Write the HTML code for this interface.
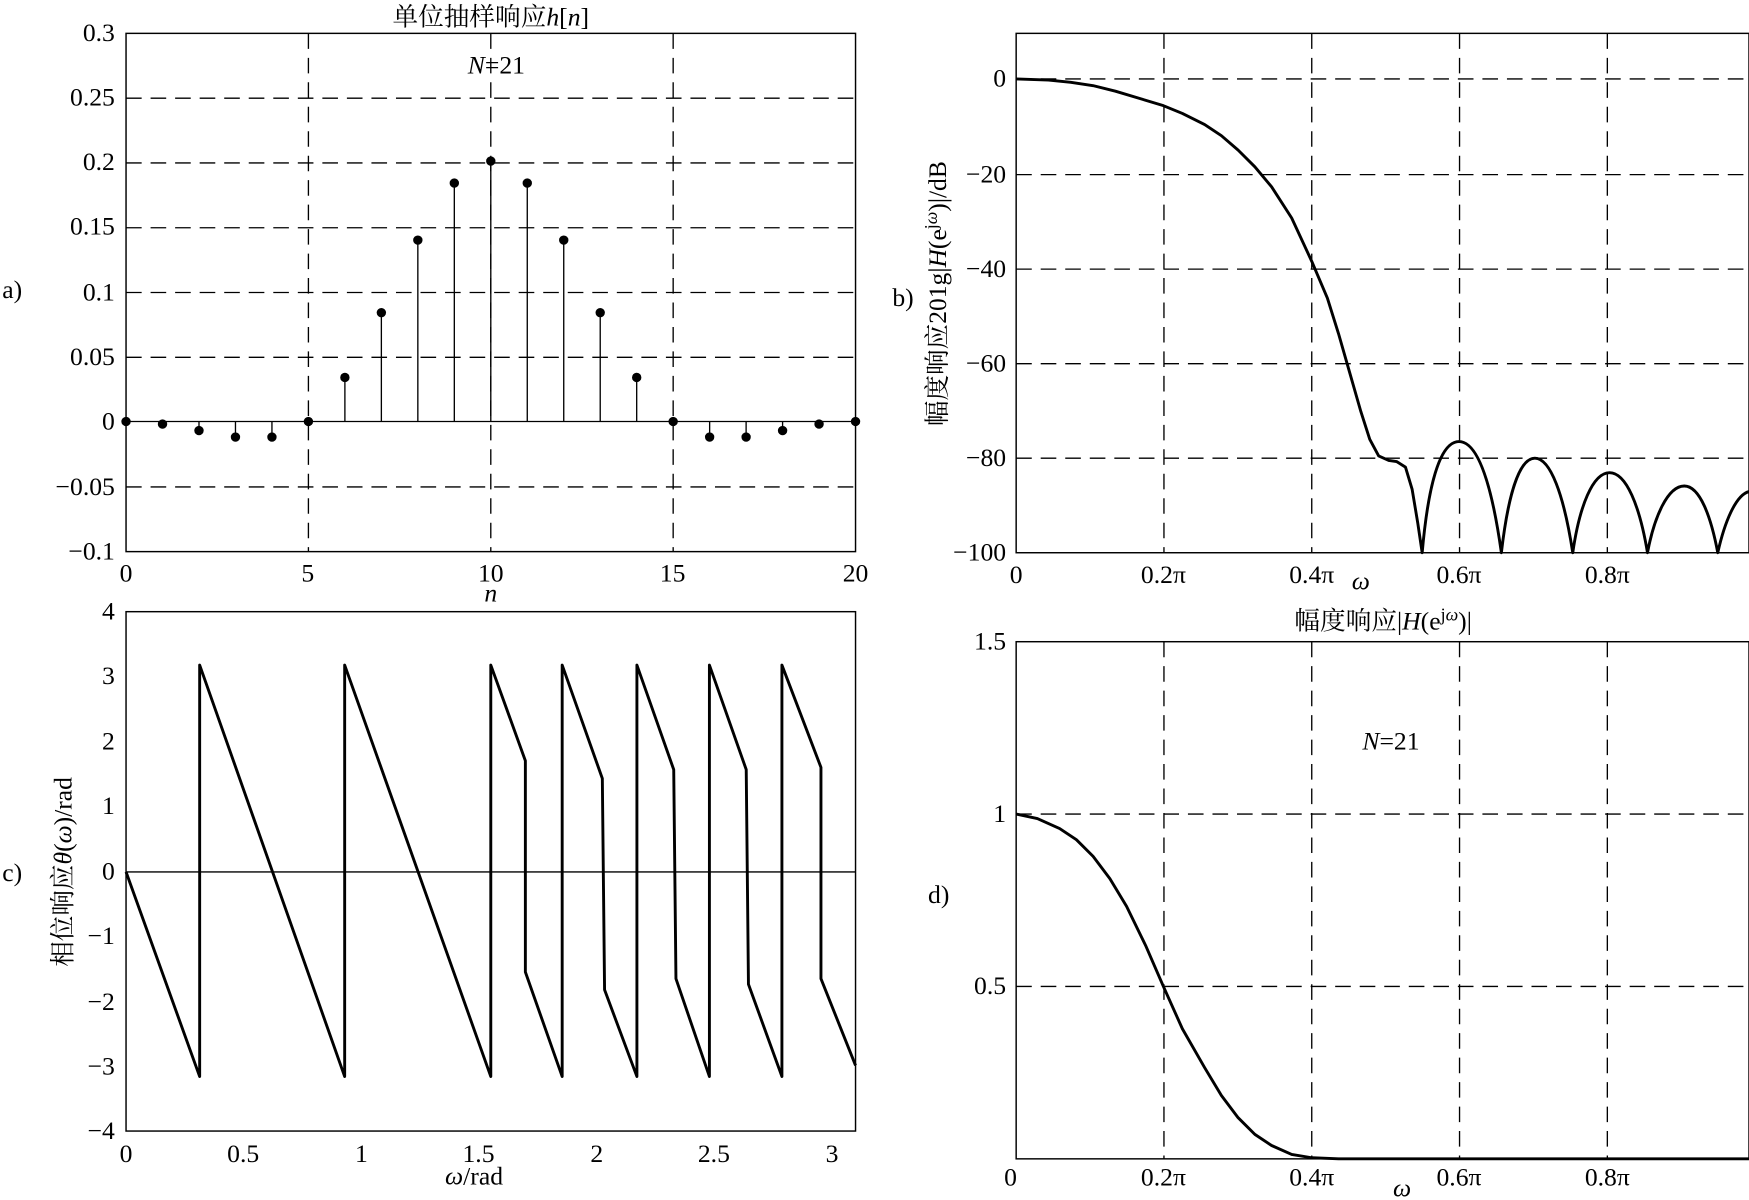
<!DOCTYPE html>
<html><head><meta charset="utf-8"><style>
html,body{margin:0;padding:0;background:#fff;}
svg{display:block;}
text{font-family:"Liberation Serif","Noto Serif CJK SC","Noto Sans CJK SC",serif;font-size:23px;fill:#000;}
.g{stroke:#000;stroke-width:1.2;stroke-dasharray:14,8;fill:none;}
.ax{stroke:#000;stroke-width:1.3;fill:none;}
.c{stroke:#000;stroke-width:2.6;fill:none;stroke-linejoin:round;}
</style></head><body>
<svg width="1749" height="1200" viewBox="0 0 1568 1079" preserveAspectRatio="none" xmlns="http://www.w3.org/2000/svg">
<!-- Panel a -->
<g>
<rect x="113" y="30" width="654" height="466" class="ax"/>
<path class="g" d="M276.5 30V496M440 30V496M603.5 30V496M113 88.3H767M113 146.5H767M113 204.8H767M113 263H767M113 321.3H767M113 437.8H767"/>
<line x1="113" y1="379" x2="767" y2="379" stroke="#000" stroke-width="1.2"/>
<g id="stems" stroke="#000" stroke-width="1.2"></g>
<g text-anchor="end">
<text x="103" y="37">0.3</text><text x="103" y="95">0.25</text><text x="103" y="153">0.2</text>
<text x="103" y="211">0.15</text><text x="103" y="270">0.1</text><text x="103" y="328">0.05</text>
<text x="103" y="386">0</text><text x="103" y="445">−0.05</text><text x="103" y="503">−0.1</text>
</g>
<g text-anchor="middle">
<text x="113" y="523">0</text><text x="276" y="523">5</text><text x="440" y="523">10</text>
<text x="603" y="523">15</text><text x="767" y="523">20</text>
<text x="440" y="541" font-style="italic">n</text>
<text x="440" y="23">单位抽样响应<tspan font-style="italic">h</tspan>[<tspan font-style="italic">n</tspan>]</text>
<text x="445" y="66"><tspan font-style="italic">N</tspan>=21</text>
</g>
<text x="2" y="268">a)</text>
</g>
<!-- Panel b -->
<g>
<rect x="911" y="30" width="657" height="467" class="ax"/>
<path class="g" d="M1043.5 30V497M1176 30V497M1308.5 30V497M1441 30V497M911 71H1568M911 157H1568M911 242H1568M911 327H1568M911 412H1568"/>
<path class="c" d="M911 71 L940 72 L960 74 L980 77 L1000 82 L1020 88 L1043 95 L1060 102 L1080 112 L1095 122 L1110 135 L1125 150 L1140 168 L1158 196 L1176 235 L1190 268 L1200 300 L1210 335 L1220 370 L1228 395 L1236 410 L1245 414 L1252 415 L1260 420 L1266 440 L1271 470 L1275 497 C1280 440 1290 397 1308 397 C1326 397 1338 440 1346 497 C1352 445 1362 412 1376 412 C1390 412 1402 445 1410 497 C1416 455 1428 425 1443 425 C1458 425 1470 455 1477 497 C1483 465 1495 437 1510 437 C1524 437 1534 465 1540 497 C1546 470 1556 445 1568 442"/>
<g text-anchor="end">
<text x="902" y="78">0</text><text x="902" y="164">−20</text><text x="902" y="249">−40</text>
<text x="902" y="334">−60</text><text x="902" y="419">−80</text><text x="902" y="504">−100</text>
</g>
<g text-anchor="middle">
<text x="911" y="524">0</text><text x="1043" y="524">0.2π</text><text x="1176" y="524">0.4π</text>
<text x="1308" y="524">0.6π</text><text x="1441" y="524">0.8π</text>
<text x="1220" y="530" font-style="italic">ω</text>
</g>
<text transform="translate(848,264) rotate(-90)" text-anchor="middle">幅度响应201g|<tspan font-style="italic">H</tspan>(e<tspan font-size="16" dy="-8">j<tspan font-style="italic">ω</tspan></tspan><tspan dy="8">)|/dB</tspan></text>
<text x="800" y="275">b)</text>
</g>
<!-- Panel c -->
<g>
<rect x="113" y="550" width="654" height="467" class="ax"/>
<line x1="113" y1="784" x2="767" y2="784" stroke="#000" stroke-width="1.2"/>
<path class="c" d="M113 784 L179 968 L179 598 L309 968 L309 598 L440 968 L440 598 L471 684 L471 874 L504 968 L504 598 L540 700 L542 890 L571 968 L571 598 L604 692 L606 880 L636 968 L636 598 L669 692 L671 885 L701 968 L701 598 L736 690 L736 880 L767 958"/>
<g text-anchor="end">
<text x="103" y="557">4</text><text x="103" y="615">3</text><text x="103" y="674">2</text>
<text x="103" y="732">1</text><text x="103" y="791">0</text><text x="103" y="849">−1</text>
<text x="103" y="908">−2</text><text x="103" y="966">−3</text><text x="103" y="1024">−4</text>
</g>
<g text-anchor="middle">
<text x="113" y="1045">0</text><text x="218" y="1045">0.5</text><text x="324" y="1045">1</text>
<text x="429" y="1045">1.5</text><text x="535" y="1045">2</text><text x="640" y="1045">2.5</text><text x="746" y="1045">3</text>
<text x="425" y="1065"><tspan font-style="italic">ω</tspan>/rad</text>
</g>
<text transform="translate(64,784) rotate(-90)" text-anchor="middle">相位响应<tspan font-style="italic">θ</tspan>(<tspan font-style="italic">ω</tspan>)/rad</text>
<text x="2" y="792">c)</text>
</g>
<!-- Panel d -->
<g>
<rect x="911" y="577" width="657" height="465" class="ax"/>
<path class="g" d="M1043.5 577V1042M1176 577V1042M1308.5 577V1042M1441 577V1042M911 732H1568M911 887H1568"/>
<path class="c" d="M911 732 L930 736 L950 745 L965 755 L980 770 L995 790 L1010 815 L1027 850 L1043 887 L1060 925 L1080 960 L1095 985 L1110 1005 L1125 1020 L1140 1030 L1158 1038 L1176 1041 L1200 1042 L1568 1042"/>
<g text-anchor="end">
<text x="902" y="584">1.5</text><text x="902" y="739">1</text><text x="902" y="894">0.5</text>
</g>
<g text-anchor="middle">
<text x="906" y="1066">0</text><text x="1043" y="1066">0.2π</text><text x="1176" y="1066">0.4π</text>
<text x="1308" y="1066">0.6π</text><text x="1441" y="1066">0.8π</text>
<text x="1257" y="1076" font-style="italic">ω</text>
<text x="1240" y="566">幅度响应|<tspan font-style="italic">H</tspan>(e<tspan font-size="16" dy="-8">j<tspan font-style="italic">ω</tspan></tspan><tspan dy="8">)|</tspan></text>
<text x="1247" y="674"><tspan font-style="italic">N</tspan>=21</text>
</g>
<text x="832" y="812">d)</text>
</g>
</svg>
<script>
var h=[0,-0.002,-0.007,-0.012,-0.012,0,0.034,0.084,0.14,0.184,0.201,0.184,0.14,0.084,0.034,0,-0.012,-0.012,-0.007,-0.002,0];
var g=document.getElementById('stems'),s='';
for(var n=0;n<21;n++){var x=113+n*32.7,y=379-h[n]*1165;
s+='<line x1="'+x+'" y1="379" x2="'+x+'" y2="'+y+'"/><circle cx="'+x+'" cy="'+y+'" r="4.2" fill="#000" stroke="none"/>';}
g.innerHTML=s;
</script>
</body></html>
